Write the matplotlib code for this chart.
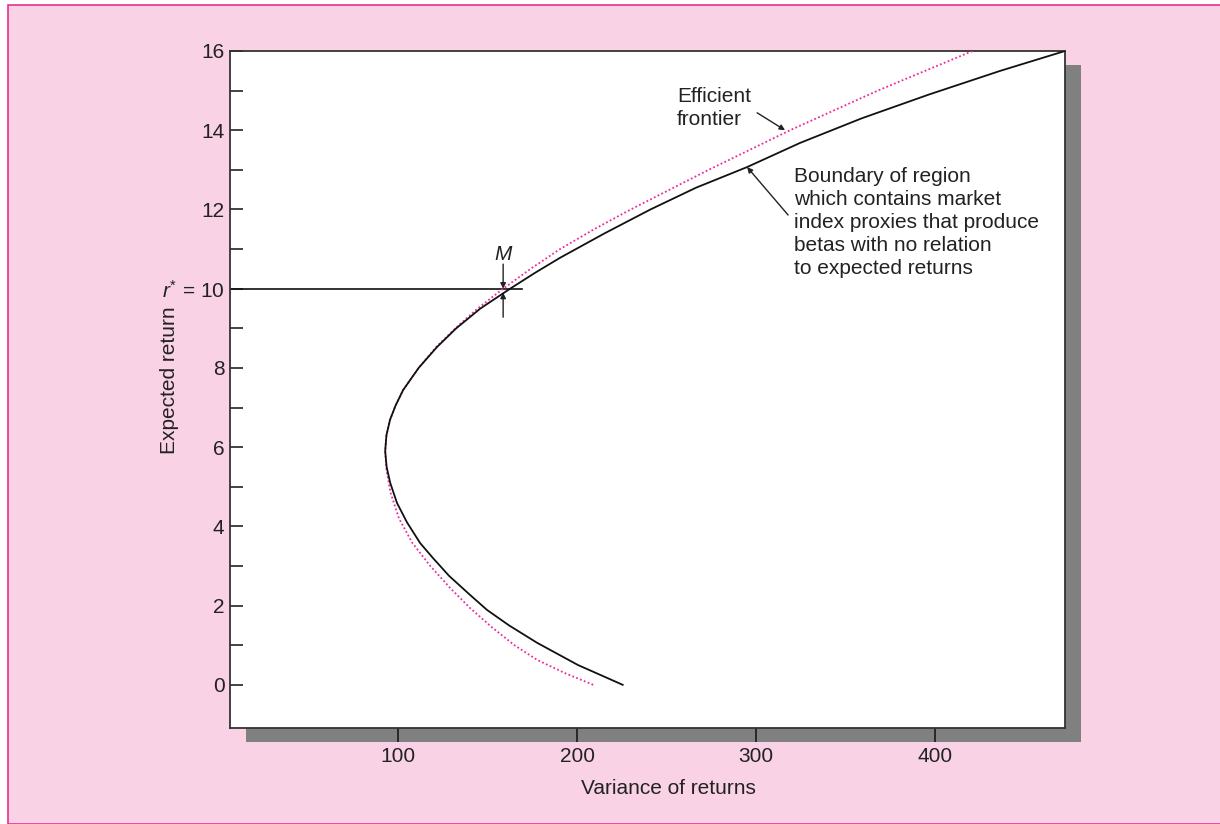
import matplotlib.pyplot as plt
from matplotlib.patches import Rectangle

plt.rcParams['font.family'] = ['Liberation Sans', 'DejaVu Sans']
plt.rcParams['mathtext.fontset'] = 'custom'
plt.rcParams['mathtext.it'] = 'Liberation Sans:italic'
plt.rcParams['mathtext.rm'] = 'Liberation Sans'

# values
boundary_return = [0.0, 0.5, 1.06, 1.5, 1.89, 2.27, 2.75, 3.2, 3.58, 4.1, 4.59, 5.1, 5.5,
                   5.9, 6.3, 6.69, 7.05, 7.44, 8.0, 8.53, 9.0, 9.5, 10.0, 10.4, 10.78,
                   11.4, 12.0, 12.55, 13.07, 13.68, 14.3, 14.9, 15.5, 16.0]
boundary_variance = [225.5, 200.5, 177.7, 162.0, 149.7, 140.2, 128.5, 119.5, 112.3, 105.0,
                     99.4, 95.6, 93.6, 92.8, 93.5, 95.5, 98.6, 102.8, 111.5, 121.8, 132.5,
                     146.0, 162.6, 176.5, 190.5, 215.5, 241.0, 266.5, 295.0, 324.6, 359.0,
                     396.5, 436.5, 472.6]

frontier_return = [0.0, 0.3, 0.63, 1.0, 1.45, 1.94, 2.45, 3.0, 3.58, 4.2, 4.85, 5.4, 5.9,
                   6.3, 6.69, 7.05, 7.44, 8.0, 8.53, 9.0, 9.5, 10.0, 10.5, 11.0, 11.5,
                   12.0, 13.0, 14.0, 15.0, 16.0]
frontier_variance = [209.0, 193.0, 177.7, 165.0, 152.5, 140.2, 129.0, 118.0, 108.0, 100.5,
                     95.8, 93.6, 92.8, 93.5, 95.5, 98.6, 102.8, 111.5, 121.3, 132.0, 144.5,
                     158.7, 174.0, 190.5, 209.5, 230.0, 273.5, 319.0, 368.0, 421.0]

r_star = 10
m_variance = 158.7
x_ticks = [100, 200, 300, 400]
y_ticks = [0, 2, 4, 6, 8, 10, 12, 14, 16]
y_minor = [1, 3, 5, 7, 9, 11, 13, 15]

ink = '#222222'
fs = 15
fig = plt.figure(figsize=(12.2, 8.24), dpi=100)
W, H = 1220, 824

# pink panel and drop shadow
fig.patches.append(Rectangle((8 / W, 0), 1, 1 - 5 / H, transform=fig.transFigure,
                             facecolor='#f9d3e5', edgecolor='#e8308f', lw=1.2, zorder=-3))
fig.patches.append(Rectangle((246 / W, 1 - 742 / H), 835 / W, 677 / H, transform=fig.transFigure,
                             facecolor='#808080', edgecolor='none', zorder=-2))

ax = fig.add_axes([230 / W, 1 - 728 / H, 835 / W, 677 / H])
ax.set_facecolor('white')
ax.set_xlim(6.1, 472.6)
ax.set_ylim(-1.09, 16)

ax.plot(frontier_variance, frontier_return, color='#ee2a9b', lw=1.3,
        linestyle=(0, (1.0, 1.3)), zorder=3)
ax.plot(boundary_variance, boundary_return, color='#111111', lw=1.3, zorder=4)

# r* line and M markers
ax.plot([6.1, 169.3], [r_star, r_star], color='#111111', lw=1.2, zorder=2)
arrow = dict(arrowstyle='-|>', color=ink, lw=1.0, mutation_scale=8, shrinkA=0, shrinkB=0)
ax.annotate('', xy=(m_variance, r_star), xytext=(m_variance, 10.62), arrowprops=arrow)
ax.annotate('', xy=(m_variance, 9.9), xytext=(m_variance, 9.28), arrowprops=arrow)
ax.text(m_variance, 10.86, 'M', style='italic', fontsize=fs, color=ink, ha='center', va='center')

ax.annotate('', xy=(316.2, 14.0), xytext=(300.6, 14.44), arrowprops=arrow)
ax.text(255.9, 15.08, 'Efficient\nfrontier', fontsize=fs, color=ink, ha='left', va='top',
        linespacing=1.26)

ax.annotate('', xy=(295.0, 13.07), xytext=(317.9, 11.86), arrowprops=arrow)
ax.text(321.2, 13.06, 'Boundary of region\nwhich contains market\nindex proxies that produce\n'
        'betas with no relation\nto expected returns', fontsize=fs, color=ink,
        ha='left', va='top', linespacing=1.26)

ax.set_xticks(x_ticks)
ax.set_xticklabels([str(v) for v in x_ticks])
ax.set_yticks(y_ticks)
ax.set_yticklabels([r'$r^{*}$ = 10' if v == r_star else str(v) for v in y_ticks])
ax.set_yticks(y_minor, minor=True)
ax.tick_params(axis='x', direction='out', length=10, width=1.1, pad=4,
               labelsize=fs, labelcolor=ink, color='#111111')
ax.tick_params(axis='y', which='both', direction='in', length=9.5, width=1.1, pad=4,
               labelsize=fs, labelcolor=ink, color='#111111')
for s in ax.spines.values():
    s.set_color('#333333')
    s.set_linewidth(1.3)

ax.set_xlabel('Variance of returns', fontsize=fs, color=ink)
ax.set_ylabel('Expected return', fontsize=fs, color=ink)
ax.xaxis.set_label_coords(0.5246, -0.0753)
ax.yaxis.set_label_coords(-0.0611, 0.514)

fig.savefig('out.png', dpi=100)
